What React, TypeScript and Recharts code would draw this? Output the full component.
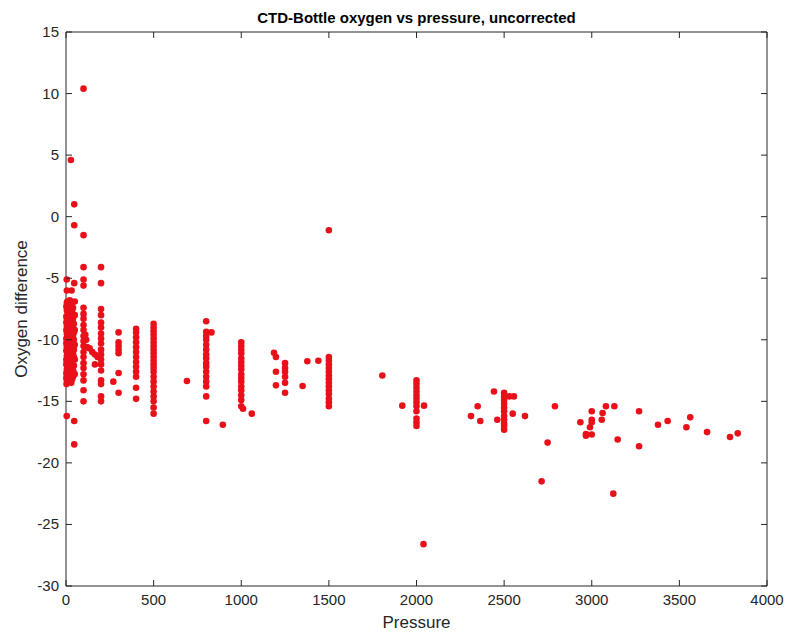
import React from "react"
import { ScatterChart, Scatter, XAxis, YAxis, ReferenceLine } from "recharts"

// [pressure, oxygen difference]
const surface: number[][] = [
  [2, -7.3], [2, -8.1], [2, -8.6], [2, -9.2], [2, -9.9], [2, -10.3], [2, -10.9], [2, -11.6], [2, -12.0], [2, -12.7], [2, -13.1],
  [5, -7.0], [5, -7.6], [5, -8.3], [5, -8.9], [5, -9.5], [5, -10.1], [5, -10.6], [5, -11.3], [5, -11.8], [5, -12.4], [5, -12.9], [5, -13.3],
  [8, -6.9], [8, -7.7], [8, -8.4], [8, -9.0], [8, -9.5], [8, -10.0], [8, -10.6], [8, -11.2], [8, -11.9], [8, -12.4], [8, -12.9], [8, -13.4],
  [12, -7.2], [12, -8.0], [12, -8.7], [12, -9.3], [12, -9.9], [12, -10.5], [12, -11.1], [12, -11.7], [12, -12.3], [12, -12.8], [12, -13.2],
  [15, -7.1], [15, -7.8], [15, -8.2], [15, -8.8], [15, -9.3], [15, -9.8], [15, -10.4], [15, -11.0], [15, -11.4], [15, -12.1], [15, -12.6], [15, -13.2],
  [18, -7.0], [18, -7.6], [18, -8.4], [18, -9.1], [18, -9.7], [18, -10.3], [18, -10.9], [18, -11.5], [18, -12.0], [18, -12.6], [18, -13.1],
  [22, -6.8], [22, -7.5], [22, -8.0], [22, -8.6], [22, -9.1], [22, -9.6], [22, -10.2], [22, -10.7], [22, -11.3], [22, -11.8], [22, -12.3], [22, -12.8], [22, -13.3],
  [26, -7.3], [26, -8.1], [26, -8.8], [26, -9.5], [26, -10.0], [26, -10.6], [26, -11.2], [26, -11.9], [26, -12.5], [26, -13.0],
  [30, -7.0], [30, -7.9], [30, -8.5], [30, -9.4], [30, -10.1], [30, -10.8], [30, -11.5], [30, -12.2], [30, -12.9],
  [35, -7.6], [35, -8.2], [35, -8.9], [35, -9.5], [35, -10.2], [35, -10.9], [35, -11.4], [35, -12.0], [35, -12.7], [35, -13.2],
  [40, -7.4], [40, -8.3], [40, -9.0], [40, -9.7], [40, -10.5], [40, -11.1], [40, -11.7], [40, -12.5], [40, -13.0],
  [45, -8.0], [45, -8.7], [45, -9.4], [45, -10.0], [45, -10.8], [45, -11.4], [45, -12.1], [45, -12.7],
  [50, -6.9], [50, -8.0], [50, -9.2], [50, -10.4], [50, -11.6], [50, -12.8],
  [4, -5.1], [47, -5.4], [5, -6.0], [32, -6.0], [28, 4.6], [47, 1.0], [47, -0.7],
  [4, -16.2], [47, -16.6], [47, -18.5], [3, -13.6], [30, -13.5],
]

const upper: number[][] = [
  [100, -7.4], [100, -7.9], [100, -8.3], [100, -8.8], [100, -9.2], [100, -9.7], [100, -10.1], [100, -10.5], [100, -11.0],
  [100, -11.4], [100, -11.9], [100, -12.3], [100, -12.8], [100, -13.3], [100, -14.1], [100, -15.0],
  [100, -4.1], [100, -5.1], [100, -5.6], [100, -1.5], [100, 10.4],
  [110, -9.6], [115, -10.0], [120, -10.6], [135, -10.7], [150, -11.0], [165, -11.2], [180, -11.4], [190, -11.3], [165, -12.0],
  [200, -7.5], [200, -8.0], [200, -8.6], [200, -9.0], [200, -9.5], [200, -9.9], [200, -10.3], [200, -10.8], [200, -11.2],
  [200, -11.6], [200, -12.0], [200, -12.5], [200, -13.3], [200, -13.6], [200, -14.6], [200, -15.0], [200, -4.1], [200, -5.4],
  [300, -9.4], [300, -10.2], [300, -10.5], [300, -10.8], [300, -11.1], [300, -12.7], [300, -14.3], [270, -13.4],
  [400, -9.1], [400, -9.4], [400, -9.8], [400, -10.2], [400, -10.6], [400, -11.0], [400, -11.4], [400, -11.8], [400, -12.2],
  [400, -12.6], [400, -13.0], [400, -13.9], [400, -14.8],
  [500, -8.7], [500, -9.0], [500, -9.3], [500, -9.6], [500, -9.9], [500, -10.2], [500, -10.5], [500, -10.8], [500, -11.1],
  [500, -11.4], [500, -11.7], [500, -12.0], [500, -12.3], [500, -12.6], [500, -13.0], [500, -13.4], [500, -13.8], [500, -14.2],
  [500, -14.6], [500, -15.0], [500, -15.5], [500, -16.0],
  [690, -13.35],
]

const middle: number[][] = [
  [800, -8.5], [800, -9.35], [800, -9.7], [800, -10.0], [800, -10.4], [800, -10.8], [800, -11.2], [800, -11.5], [800, -11.9],
  [800, -12.2], [800, -12.6], [800, -13.0], [800, -13.4], [800, -13.8], [800, -14.6], [800, -16.6], [830, -9.4], [895, -16.9],
  [1000, -10.2], [1000, -10.5], [1000, -10.8], [1000, -11.1], [1000, -11.5], [1000, -11.8], [1000, -12.1], [1000, -12.4],
  [1000, -12.8], [1000, -13.1], [1000, -13.4], [1000, -13.8], [1000, -14.1], [1000, -14.5], [1000, -14.9], [1000, -15.4],
  [1010, -15.6], [1060, -16.0],
  [1187, -11.05], [1198, -11.4], [1198, -12.6], [1198, -13.7],
  [1250, -11.9], [1250, -12.3], [1250, -12.6], [1250, -13.0], [1250, -13.5], [1250, -14.3],
  [1350, -13.75], [1377, -11.75], [1440, -11.7],
  [1500, -1.1], [1500, -11.4], [1500, -11.7], [1500, -12.0], [1500, -12.3], [1500, -12.6], [1500, -12.9], [1500, -13.2],
  [1500, -13.5], [1500, -13.8], [1500, -14.1], [1500, -14.4], [1500, -14.8], [1500, -15.1], [1500, -15.4],
  [1805, -12.9], [1919, -15.35], [2043, -15.35], [2040, -26.6],
  [2000, -13.3], [2000, -13.6], [2000, -13.9], [2000, -14.2], [2000, -14.5], [2000, -14.8], [2000, -15.1], [2000, -15.4],
  [2000, -15.8], [2000, -16.4], [2000, -16.7], [2000, -17.0],
]

const deep: number[][] = [
  [2311, -16.2], [2349, -15.4], [2364, -16.6], [2442, -14.2], [2461, -16.5],
  [2500, -14.3], [2500, -14.6], [2500, -14.9], [2500, -15.2], [2500, -15.5], [2500, -15.8], [2500, -16.2], [2500, -16.5],
  [2500, -16.8], [2500, -17.0], [2500, -17.3],
  [2530, -14.6], [2556, -14.6], [2549, -16.0], [2619, -16.2], [2748, -18.35], [2714, -21.5], [2790, -15.4],
  [2935, -16.7], [2967, -17.65], [2967, -17.8], [3000, -17.7], [2990, -17.1], [3000, -15.8], [3000, -16.5], [3000, -16.7],
  [3057, -16.5], [3062, -15.95], [3081, -15.4], [3129, -15.4], [3123, -22.5], [3148, -18.1],
  [3270, -15.8], [3270, -18.65], [3378, -16.9], [3433, -16.6], [3540, -17.1], [3562, -16.3],
  [3658, -17.5], [3789, -17.9], [3833, -17.6],
]

const xTicks = [0, 500, 1000, 1500, 2000, 2500, 3000, 3500, 4000]
const yTicks = [-30, -25, -20, -15, -10, -5, 0, 5, 10, 15]

const W = 785
const H = 633
const PLOT_LEFT = 66
const PLOT_RIGHT = 767
const PLOT_TOP = 32
const PLOT_BOTTOM = 586
const FONT = "'Liberation Sans', Arial, Helvetica, sans-serif"
const AXIS = "#262626"
const RED = "#e8111a"

const points = [...surface, ...upper, ...middle, ...deep].map(([p, o]) => ({ p, o }))

function XTick(props: any) {
  const { x, payload } = props
  return (
    <g>
      <line x1={x} x2={x} y1={PLOT_BOTTOM} y2={PLOT_BOTTOM - 6} stroke={AXIS} />
      <line x1={x} x2={x} y1={PLOT_TOP} y2={PLOT_TOP + 6} stroke={AXIS} />
      <text x={x} y={PLOT_BOTTOM + 19} textAnchor="middle" fontSize={15} fill={AXIS} fontFamily={FONT}>
        {payload.value}
      </text>
    </g>
  )
}

function YTick(props: any) {
  const { y, payload } = props
  return (
    <g>
      <line x1={PLOT_LEFT} x2={PLOT_LEFT + 6} y1={y} y2={y} stroke={AXIS} />
      <line x1={PLOT_RIGHT} x2={PLOT_RIGHT - 6} y1={y} y2={y} stroke={AXIS} />
      <text x={PLOT_LEFT - 7} y={y + 5} textAnchor="end" fontSize={15} fill={AXIS} fontFamily={FONT}>
        {payload.value}
      </text>
    </g>
  )
}

const Dot = (props: any) => <circle cx={props.cx} cy={props.cy} r={3.3} fill={RED} />

export default function App() {
  return (
    <div style={{ position: "absolute", left: 0, top: 0, width: W, height: H, background: "#fff" }}>
      <ScatterChart
        width={W}
        height={H}
        margin={{ top: PLOT_TOP, right: W - PLOT_RIGHT, bottom: 0, left: 0 }}
      >
        <XAxis
          type="number"
          dataKey="p"
          domain={[0, 4000]}
          ticks={xTicks}
          interval={0}
          height={H - PLOT_BOTTOM}
          tickSize={0}
          tick={<XTick />}
          axisLine={{ stroke: AXIS }}
          tickLine={false}
        />
        <YAxis
          type="number"
          dataKey="o"
          domain={[-30, 15]}
          ticks={yTicks}
          interval={0}
          width={PLOT_LEFT}
          tickSize={0}
          tick={<YTick />}
          axisLine={{ stroke: AXIS }}
          tickLine={false}
        />
        <ReferenceLine y={15} stroke={AXIS} />
        <ReferenceLine x={4000} stroke={AXIS} />
        <Scatter data={points} shape={<Dot />} isAnimationActive={false} />
      </ScatterChart>
      <div
        style={{
          position: "absolute", left: PLOT_LEFT, width: PLOT_RIGHT - PLOT_LEFT, top: 9, textAlign: "center",
          fontFamily: FONT, fontSize: 15, fontWeight: "bold", color: "#000",
        }}
      >
        CTD-Bottle oxygen vs pressure, uncorrected
      </div>
      <div
        style={{
          position: "absolute", left: PLOT_LEFT, width: PLOT_RIGHT - PLOT_LEFT, top: 613, textAlign: "center",
          fontFamily: FONT, fontSize: 17, color: AXIS,
        }}
      >
        Pressure
      </div>
      <div
        style={{
          position: "absolute", left: 22, top: (PLOT_TOP + PLOT_BOTTOM) / 2, transform: "translate(-50%, -50%) rotate(-90deg)",
          whiteSpace: "nowrap", fontFamily: FONT, fontSize: 17, color: AXIS,
        }}
      >
        Oxygen difference
      </div>
    </div>
  )
}
